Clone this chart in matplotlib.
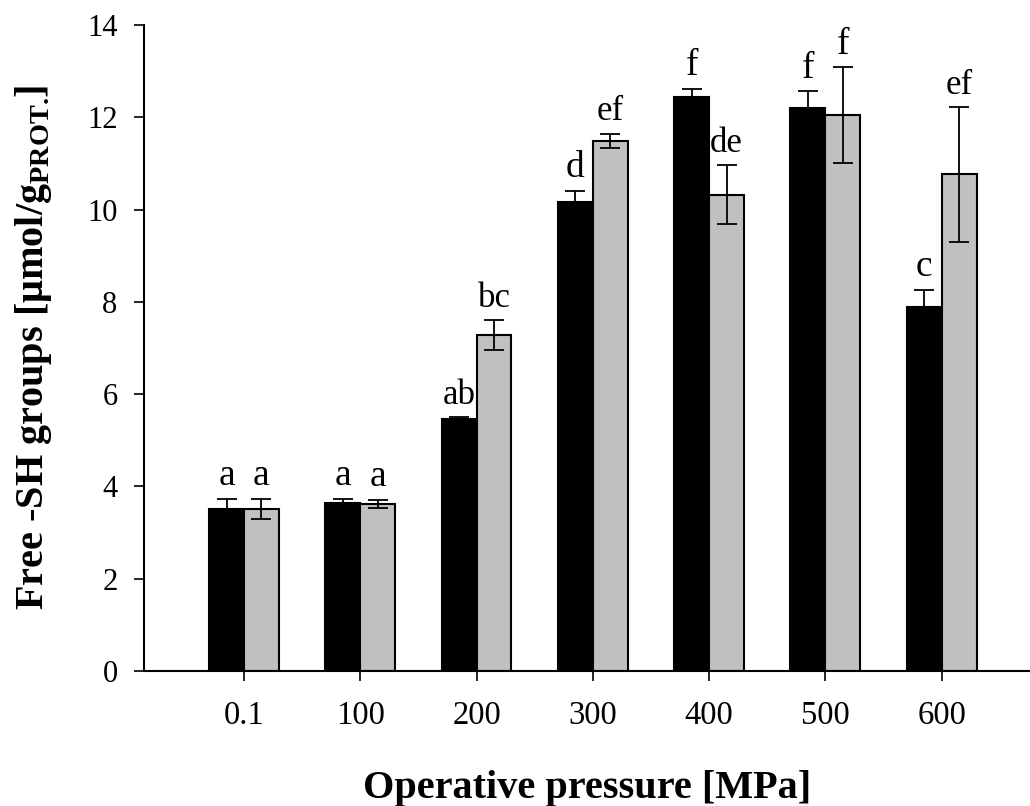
import numpy as np
import matplotlib
matplotlib.use("Agg")
import matplotlib.pyplot as plt

plt.rcParams["font.family"] = ["Liberation Serif", "DejaVu Serif"]
plt.rcParams["mathtext.fontset"] = "custom"
plt.rcParams["mathtext.rm"] = "Liberation Serif"
plt.rcParams["mathtext.bf"] = "Liberation Serif:bold"

# data
pressure = ["0.1", "100", "200", "300", "400", "500", "600"]
black_vals = [3.52, 3.64, 5.47, 10.16, 12.44, 12.20, 7.88]
black_err = [0.21, 0.09, 0.03, 0.25, 0.18, 0.36, 0.38]
grey_vals = [3.51, 3.62, 7.28, 11.49, 10.32, 12.04, 10.76]
grey_err = [0.22, 0.09, 0.32, 0.15, 0.64, 1.04, 1.46]
black_letters = ["a", "a", "ab", "d", "f", "f", "c"]
grey_letters = ["a", "a", "bc", "ef", "de", "f", "ef"]

x = np.arange(len(pressure))
w = 0.30

fig = plt.figure(figsize=(10.30, 8.06), dpi=100)
ax = fig.add_axes([0.1398, 0.1675, 0.8602, 0.8015])

ax.bar(x - w / 2, black_vals, w, color="black", edgecolor="black", linewidth=1.5,
       yerr=black_err, capsize=7, error_kw=dict(elinewidth=1.3, capthick=1.3, ecolor="black"))
ax.bar(x + w / 2, grey_vals, w, color="#c0c0c0", edgecolor="black", linewidth=1.5,
       yerr=grey_err, capsize=7, error_kw=dict(elinewidth=1.3, capthick=1.3, ecolor="black"))

# significance letters
for i in range(len(x)):
    ax.annotate(black_letters[i], (x[i] - w / 2, black_vals[i] + black_err[i]),
                xytext=(0, 4), textcoords="offset points", ha="center", va="bottom",
                fontsize=27 if len(black_letters[i]) == 1 else 25)
    ax.annotate(grey_letters[i], (x[i] + w / 2, grey_vals[i] + grey_err[i]),
                xytext=(0, 4), textcoords="offset points", ha="center", va="bottom",
                fontsize=27 if len(grey_letters[i]) == 1 else 25)

ax.set_xlim(-0.86, 6.76)
ax.set_ylim(0, 14)
ax.set_yticks(np.arange(0, 15, 2))
ax.set_xticks(x)
ax.set_xticklabels(pressure)

for s in ["top", "right"]:
    ax.spines[s].set_visible(False)
for s in ["left", "bottom"]:
    ax.spines[s].set_linewidth(1.5)

ax.tick_params(axis="y", direction="out", length=7, width=1.2, labelsize=22, pad=12)
ax.tick_params(axis="x", direction="out", length=7, width=1.2, labelsize=23.5, pad=14)

ax.set_xlabel("Operative pressure [MPa]", fontsize=29, fontweight="bold", labelpad=28)
ax.set_ylabel("Free -SH groups [μmol/g$_\\mathbf{PROT.}\\!$]", fontsize=29,
              fontweight="bold", labelpad=24)

fig.savefig("out.png", dpi=100)
